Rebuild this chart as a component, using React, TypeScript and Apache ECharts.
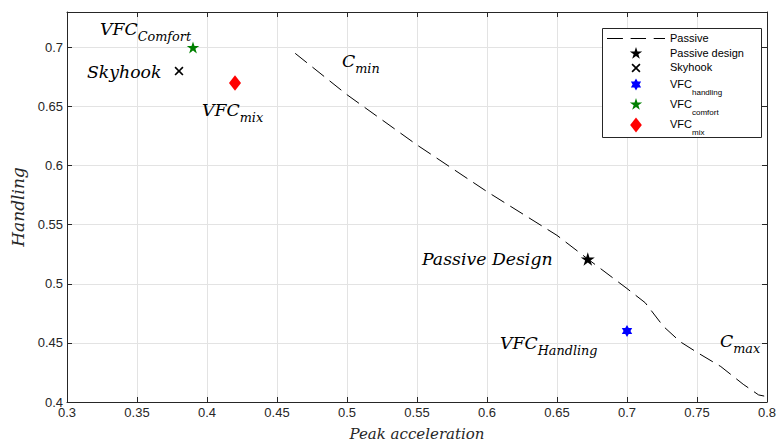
import React, { useEffect, useRef } from "react";
import * as echarts from "echarts";

// ---- data ----
const passiveX = [0.463, 0.5, 0.55, 0.6, 0.65, 0.672, 0.7, 0.713, 0.726, 0.738, 0.75, 0.767, 0.783, 0.794, 0.798];
const passiveY = [0.695, 0.66, 0.6175, 0.578, 0.541, 0.521, 0.496, 0.484, 0.464, 0.451, 0.442, 0.43, 0.415, 0.406, 0.405];
const passiveDesignPt = [0.672, 0.521];
const skyhookPt = [0.38, 0.68];
const vfcHandlingPt = [0.7, 0.46];
const vfcComfortPt = [0.39, 0.7];
const vfcMixPt = [0.42, 0.67];
const seriesNames = ["Passive", "Passive design", "Skyhook", "VFC_handling", "VFC_comfort", "VFC_mix"];
const xAxisTitle = "Peak acceleration";
const yAxisTitle = "Handling";

// ---- symbol shapes ----
function polyStarBody(n: number, inner: number) {
  const pts: string[] = [];
  for (let i = 0; i < 2 * n; i++) {
    const r = i % 2 === 0 ? 1 : inner;
    const a = -Math.PI / 2 + (i * Math.PI) / n;
    pts.push(`${(r * Math.cos(a)).toFixed(4)},${(r * Math.sin(a)).toFixed(4)}`);
  }
  return "M" + pts.join(" L") + " Z";
}
const LEGEND_ICON_W = 58;
// legend icon: invisible move-to points widen the path's box so that it fills the icon slot
function legendIcon(body: string, H: number, itemH: number) {
  const W = (H * LEGEND_ICON_W) / itemH;
  return `path://M${-W},${-H} M${W},${H} ${body}`;
}
const STAR_BODY = polyStarBody(5, 0.382);
const HEXA_BODY = polyStarBody(6, 0.5774);
const CROSS_BODY =
  "M-0.37,-0.5 L0,-0.13 L0.37,-0.5 L0.5,-0.37 L0.13,0 L0.5,0.37 L0.37,0.5 L0,0.13 L-0.37,0.5 L-0.5,0.37 L-0.13,0 L-0.5,-0.37 Z";
const DIAMOND_BODY = "M0,-1 L0.78,0 L0,1 L-0.78,0 Z";

const STAR = "path://" + STAR_BODY;
const HEXA = "path://" + HEXA_BODY;
const CROSS = "path://" + CROSS_BODY;
const DIAMOND = "path://" + DIAMOND_BODY;

const DASH_LEGEND = "path://M0,0 H15.5 V1 H0 Z M23,0 H38 V1 H23 Z M45.5,0 H56.5 V1 H45.5 Z";
const STAR_LEGEND = legendIcon(STAR_BODY, 1.0, 13);
const CROSS_LEGEND = legendIcon(CROSS_BODY, 0.72, 13);
const HEXA_LEGEND = legendIcon(HEXA_BODY, 1.1, 13);
const DIAMOND_LEGEND = legendIcon(DIAMOND_BODY, 1.0, 15);

const SERIF = "'DejaVu Serif', serif";
const SANS = "'Liberation Sans', Arial, sans-serif";
const AXIS_COLOR = "#262626";

const annRich = {
  m: { fontFamily: SERIF, fontStyle: "italic", fontSize: 17.3, lineHeight: 20, verticalAlign: "top", fill: "#000" },
  s: { fontFamily: SERIF, fontStyle: "italic", fontSize: 12.8, lineHeight: 12, padding: [10, 0, 0, 0], verticalAlign: "top", fill: "#000" },
};

const legendRich = {
  a: { fontFamily: SANS, fontSize: 11, lineHeight: 13, verticalAlign: "top", color: "#000" },
  b: { fontFamily: SANS, fontSize: 8, lineHeight: 8, padding: [10, 0, 2, 0], verticalAlign: "top", color: "#000" },
};

function fmt(v: number) {
  return String(+v.toFixed(2));
}

function legendFor(name: string, icon: string, top: number, itemHeight: number) {
  return {
    orient: "vertical",
    left: 607,
    top,
    itemWidth: LEGEND_ICON_W,
    itemHeight,
    itemGap: 0,
    padding: 0,
    borderWidth: 0,
    backgroundColor: "transparent",
    symbolKeepAspect: true,
    selectedMode: false,
    z: 6,
    data: [{ name, icon }],
    formatter: (n: string) => {
      const i = n.indexOf("_");
      return i < 0 ? `{a|${n}}` : `{a|${n.slice(0, i)}}{b|${n.slice(i + 1)}}`;
    },
    textStyle: { color: "#000", fontFamily: SANS, fontSize: 11, rich: legendRich },
  };
}

export default function App() {
  const ref = useRef<HTMLDivElement>(null);
  useEffect(() => {
    document.body.style.margin = "0";
    const chart = echarts.init(ref.current!, null, { renderer: "svg" });
    const axisCommon = {
      type: "value" as const,
      axisLine: { show: true, onZero: false, lineStyle: { color: AXIS_COLOR, width: 1 } },
      axisTick: { show: true, inside: true, length: 5, lineStyle: { color: AXIS_COLOR } },
    };
    const option: any = {
      animation: false,
      backgroundColor: "#fff",
      grid: { left: 67, right: 10, top: 12, bottom: 39, containLabel: false, outerBoundsMode: "none" },
      xAxis: [
        {
          ...axisCommon,
          position: "bottom",
          min: 0.3,
          max: 0.8,
          interval: 0.05,
          axisLabel: { formatter: fmt, fontFamily: SANS, fontSize: 13, color: AXIS_COLOR, margin: 4 },
          splitLine: { show: true, lineStyle: { color: "#e3e3e3", width: 1 } },
          name: xAxisTitle,
          nameLocation: "middle",
          nameGap: 24,
          nameTextStyle: { fontFamily: SERIF, fontStyle: "italic", fontSize: 15, color: AXIS_COLOR },
        },
        {
          ...axisCommon,
          position: "top",
          min: 0.3,
          max: 0.8,
          interval: 0.05,
          axisLabel: { show: false },
          splitLine: { show: false },
        },
      ],
      yAxis: [
        {
          ...axisCommon,
          position: "left",
          min: 0.4,
          max: 0.73,
          interval: 0.05,
          axisLabel: { formatter: fmt, fontFamily: SANS, fontSize: 13, color: AXIS_COLOR, margin: 4, showMaxLabel: false },
          splitLine: { show: true, lineStyle: { color: "#e3e3e3", width: 1 } },
          name: yAxisTitle,
          nameLocation: "middle",
          nameGap: 31,
          nameRotate: 90,
          nameTextStyle: { fontFamily: SERIF, fontStyle: "italic", fontSize: 17, color: AXIS_COLOR },
        },
        {
          ...axisCommon,
          position: "right",
          min: 0.4,
          max: 0.73,
          interval: 0.05,
          axisLabel: { show: false },
          splitLine: { show: false },
        },
      ],
      legend: [
        legendFor(seriesNames[0], DASH_LEGEND, 32, 13),
        legendFor(seriesNames[1], STAR_LEGEND, 47, 13),
        legendFor(seriesNames[2], CROSS_LEGEND, 61.5, 13),
        legendFor(seriesNames[3], HEXA_LEGEND, 78, 13),
        legendFor(seriesNames[4], STAR_LEGEND, 98, 13),
        legendFor(seriesNames[5], DIAMOND_LEGEND, 117.5, 15),
      ],
      series: [
        {
          name: seriesNames[0],
          type: "line",
          data: passiveX.map((x, i) => [x, passiveY[i]]),
          symbol: "none",
          lineStyle: { color: "#000", width: 1, type: [15, 7] },
          itemStyle: { color: "#000" },
          z: 2,
        },
        {
          name: seriesNames[1],
          type: "scatter",
          data: [passiveDesignPt],
          symbol: STAR,
          symbolSize: 14,
          symbolKeepAspect: true,
          itemStyle: { color: "#000", opacity: 1 },
          z: 3,
        },
        {
          name: seriesNames[2],
          type: "scatter",
          data: [skyhookPt],
          symbol: CROSS,
          symbolSize: 9,
          symbolKeepAspect: true,
          itemStyle: { color: "#000", opacity: 1 },
          z: 3,
        },
        {
          name: seriesNames[3],
          type: "scatter",
          data: [vfcHandlingPt],
          symbol: HEXA,
          symbolSize: 12,
          symbolKeepAspect: true,
          itemStyle: { color: "#0000ff", opacity: 1 },
          z: 3,
        },
        {
          name: seriesNames[4],
          type: "scatter",
          data: [vfcComfortPt],
          symbol: STAR,
          symbolSize: 12.5,
          symbolKeepAspect: true,
          itemStyle: { color: "#008000", opacity: 1 },
          z: 3,
        },
        {
          name: seriesNames[5],
          type: "scatter",
          data: [vfcMixPt],
          symbol: DIAMOND,
          symbolSize: 15.5,
          symbolKeepAspect: true,
          itemStyle: { color: "#ff0000", opacity: 1 },
          z: 3,
        },
      ],
      graphic: [
        {
          type: "rect",
          z: 5,
          shape: { x: 602.5, y: 28.5, width: 159, height: 109 },
          style: { fill: "#fff", stroke: AXIS_COLOR, lineWidth: 1 },
        },
        { type: "text", x: 100, y: 20, z: 10, style: { text: "{m|VFC}{s|Comfort}", rich: annRich, align: "left", verticalAlign: "top" } },
        { type: "text", x: 87, y: 63, z: 10, style: { text: "{m|Skyhook}", rich: annRich, align: "left", verticalAlign: "top" } },
        { type: "text", x: 202, y: 101, z: 10, style: { text: "{m|VFC}{s|mix}", rich: annRich, align: "left", verticalAlign: "top" } },
        { type: "text", x: 342, y: 52, z: 10, style: { text: "{m|C}{s|min}", rich: annRich, align: "left", verticalAlign: "top" } },
        { type: "text", x: 422, y: 250, z: 10, style: { text: "{m|Passive Design}", rich: annRich, align: "left", verticalAlign: "top" } },
        { type: "text", x: 500, y: 334, z: 10, style: { text: "{m|VFC}{s|Handling}", rich: annRich, align: "left", verticalAlign: "top" } },
        { type: "text", x: 720, y: 332, z: 10, style: { text: "{m|C}{s|max}", rich: annRich, align: "left", verticalAlign: "top" } },
      ],
    };
    chart.setOption(option);
    return () => chart.dispose();
  }, []);
  return <div ref={ref} style={{ width: 777, height: 441 }} />;
}
